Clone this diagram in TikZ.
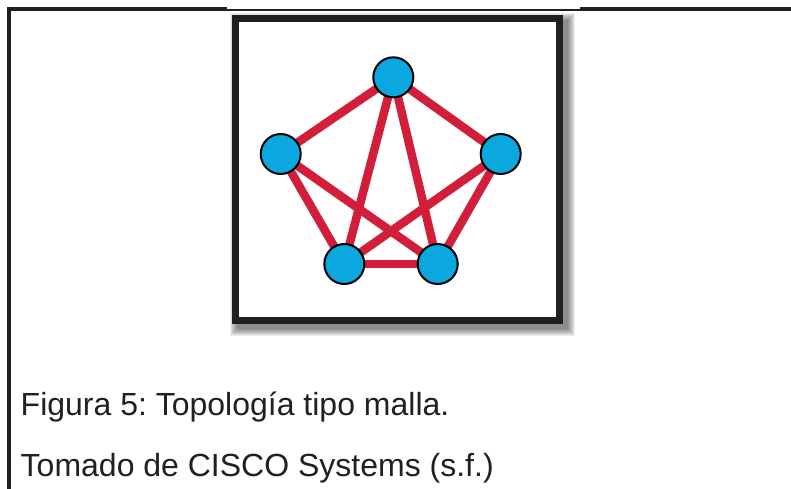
\documentclass[tikz,border=0pt]{standalone}
\usepackage{fontspec}
\setmainfont{Liberation Sans}
\usepackage{xcolor}
\definecolor{meshred}{RGB}{210,30,58}
\definecolor{hostblue}{RGB}{10,168,222}
\definecolor{inkgray}{RGB}{35,31,32}
\pgfdeclarelayer{back}
\pgfdeclarelayer{links}
\pgfsetlayers{back,links,main}
\frenchspacing

\begin{document}
\begin{tikzpicture}[x=1pt, y=-1pt,
  host/.style={circle, draw=black, line width=2pt, fill=hostblue, minimum size=40pt, inner sep=0pt},
  link/.style={meshred, line width=8.5pt},
  caption/.style={anchor=base west, inner sep=0pt, text=inkgray, font=\fontsize{32}{38}\selectfont}
]
\useasboundingbox (0,0) rectangle (791,489);

% marco de la figura
\draw[inkgray, line width=4pt] (9,7) -- (9,489);
\draw[inkgray, line width=4pt] (7,9) -- (227,9);
\draw[inkgray, line width=1.3pt] (227,10) -- (580,10);
\draw[inkgray, line width=4pt] (580,9) -- (791,9);

% recuadro con sombra
\begin{pgfonlayer}{back}
  \foreach \s in {0,...,7}
    \fill[black, opacity=0.07] (237-\s,20-\s) rectangle (568+\s,329+\s);
  \draw[inkgray, line width=7.4pt, fill=white] (235.6,18.6) rectangle (559.7,320.4);
\end{pgfonlayer}

% equipos
\node[host] (top) at (393.3,77.3) {};
\node[host] (left) at (280.7,154) {};
\node[host] (right) at (500.7,154) {};
\node[host] (botleft) at (344.3,264) {};
\node[host] (botright) at (437.7,264) {};

% enlaces de la malla
\begin{pgfonlayer}{links}
  \draw[link] (top.center) -- (left.center);
  \draw[link] (top.center) -- (right.center);
  \draw[link] (top.center) -- (botleft.center);
  \draw[link] (top.center) -- (botright.center);
  \draw[link] (left.center) -- (botleft.center);
  \draw[link] (left.center) -- (botright.center);
  \draw[link] (right.center) -- (botleft.center);
  \draw[link] (right.center) -- (botright.center);
  \draw[link] (botleft.center) -- (botright.center);
\end{pgfonlayer}

% pie de figura
\node[caption] (cap1) at (20.5,415) {Figura 5: Topología tipo malla.};
\node[caption] (cap2) at (20.5,476.5) {Tomado de CISCO Systems (s.f.)};

\end{tikzpicture}
\end{document}
